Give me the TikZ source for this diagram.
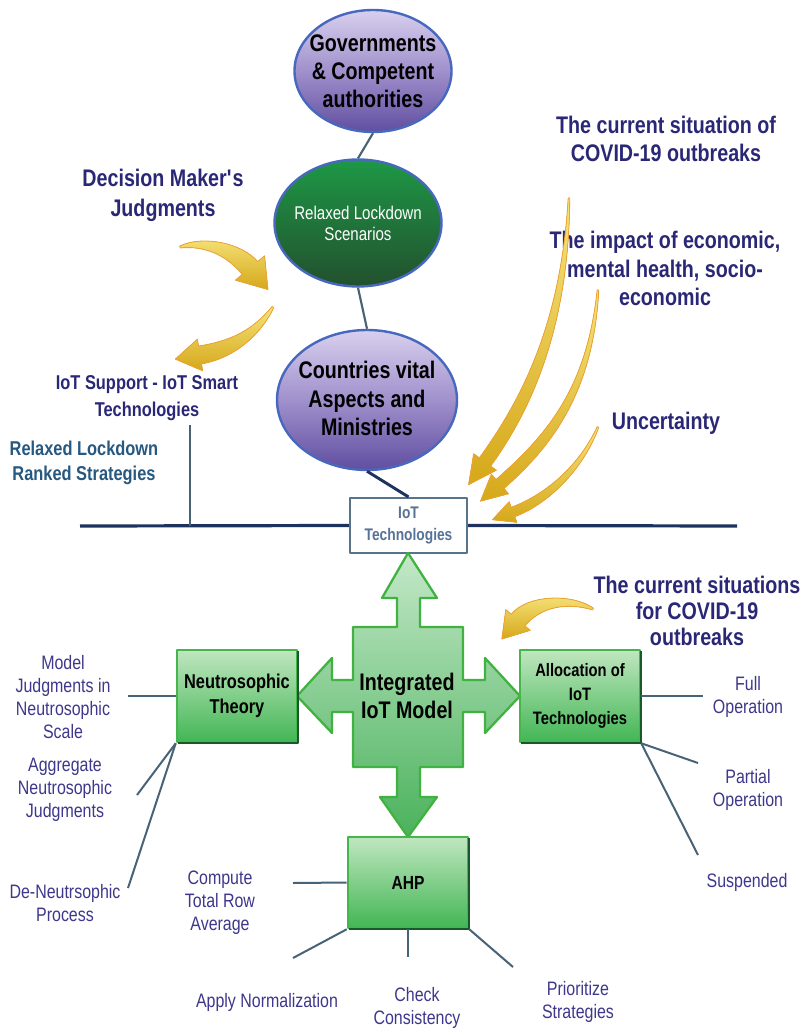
\documentclass[tikz,border=0pt]{standalone}
\usepackage{fontspec}
\setmainfont{Liberation Sans}[FakeStretch=0.82]
\usetikzlibrary{shapes.geometric,calc}

\definecolor{headnavy}{RGB}{42,40,118}
\definecolor{labelpurple}{RGB}{62,55,140}
\definecolor{rankblue}{RGB}{38,88,128}
\definecolor{ellTop}{RGB}{216,208,238}
\definecolor{ellMid}{RGB}{160,144,204}
\definecolor{ellBot}{RGB}{96,78,160}
\definecolor{ellEdge}{RGB}{72,104,190}
\definecolor{grTop}{RGB}{30,152,70}
\definecolor{grBot}{RGB}{34,80,46}
\definecolor{boxTop}{RGB}{192,230,192}
\definecolor{boxBot}{RGB}{66,182,84}
\definecolor{boxEdge}{RGB}{70,182,76}
\definecolor{boxDark}{RGB}{24,88,42}
\definecolor{arTop}{RGB}{196,232,200}
\definecolor{arBot}{RGB}{74,178,92}
\definecolor{arEdge}{RGB}{64,178,64}
\definecolor{yTop}{RGB}{246,228,124}
\definecolor{yBot}{RGB}{214,168,26}
\definecolor{yEdge}{RGB}{240,164,48}
\definecolor{lineGray}{RGB}{72,98,118}
\definecolor{mainLine}{RGB}{30,50,96}
\definecolor{iotText}{RGB}{86,114,150}
\definecolor{iotEdge}{RGB}{88,116,138}

% tapered curved arrow: start, control 1, control 2, head base,
% tail half-width, body half-width, head half-width, head length (px)
\newcommand\yarrow[8]{%
  \pgfmathsetmacro\yaT{#5*0.75}%
  \pgfmathsetmacro\yaB{#6*0.75}%
  \pgfmathsetmacro\yaM{(#5+#6)*0.375}%
  \pgfmathsetmacro\yaH{#7*0.75}%
  \pgfmathsetmacro\yaL{#8*0.75}%
  \filldraw[yarrowfill]
    ($#1!\yaT pt!90:#2$) .. controls ($#2!\yaM pt!-90:#1$) and ($#3!\yaB pt!90:#4$) .. ($#4!\yaB pt!-90:#3$)
    -- ($#4!\yaH pt!-90:#3$) -- ($#4!-\yaL pt!#3$) -- ($#4!\yaH pt!90:#3$) -- ($#4!\yaB pt!90:#3$)
    .. controls ($#3!\yaB pt!-90:#4$) and ($#2!\yaM pt!90:#1$) .. ($#1!\yaT pt!-90:#2$) -- cycle;
}

\begin{document}
\begin{tikzpicture}[x=0.75pt,y=-0.75pt,line join=round,
  pell/.style={ellipse, draw=ellEdge, line width=1.8pt, top color=ellTop, bottom color=ellBot, middle color=ellMid, inner sep=0pt},
  gell/.style={ellipse, draw=ellEdge, line width=1.8pt, top color=grTop, bottom color=grBot, inner sep=0pt},
  elltext/.style={align=center, inner sep=0pt, font=\fontsize{18}{21}\selectfont\bfseries},
  gbox/.style={rectangle, draw=boxEdge, line width=1.9pt, top color=boxTop, bottom color=boxBot, inner sep=2pt, align=center, font=\bfseries},
  heading/.style={align=center, inner sep=0pt, text=headnavy},
  sidelabel/.style={align=center, inner sep=0pt, text=labelpurple, font=\fontsize{14.6}{17.25}\selectfont},
  link/.style={draw=lineGray, line width=1.5pt},
  bigarrow/.style={draw=arEdge, line width=1.7pt, top color=arTop, bottom color=arBot},
  yarrowfill/.style={draw=yEdge, line width=0.6pt, top color=yTop, bottom color=yBot}
]
\fill[white] (0,0) rectangle (804,1031);
\useasboundingbox (0,0) rectangle (804,1031);

% ---- top chain of ellipses ----
\node[pell, minimum width=117.75pt, minimum height=91.5pt] (gov) at (373,71) {};
\node[elltext] (govtext) at (gov.center) {Governments\\\& Competent\\authorities};
\node[gell, minimum width=125.25pt, minimum height=95.25pt] (rls) at (358,223) {};
\node[align=center, inner sep=0pt, text=white, font=\fontsize{13.8}{15.75}\selectfont] (rlstext) at (rls.center) {Relaxed Lockdown\\Scenarios};
\node[pell, minimum width=135pt, minimum height=105pt] (cva) at (367,400) {};
\node[elltext, font=\fontsize{18}{21.4}\selectfont\bfseries] (cvatext) at (367,398.5) {Countries vital\\Aspects and\\Ministries};

\draw[draw=lineGray, line width=1.6pt] (gov.south) -- (rls.north);
\draw[draw=lineGray, line width=1.6pt] (rls.south) -- (cva.north);

% ---- main horizontal line and IoT box ----
\coordinate (hl) at (80,526);
\coordinate (hr) at (737,526);
\coordinate (vtop) at (190,425);
\coordinate (vbot) at (190,526);
\node[rectangle, draw=iotEdge, line width=1.6pt, fill=white, minimum width=87.75pt, minimum height=41.25pt, align=center, inner sep=1pt,
      text=iotText, font=\fontsize{12.6}{16.5}\selectfont\bfseries] (iot) at (408.5,525.5) {IoT\\Technologies};
\draw[draw=mainLine, line width=2.2pt] (cva.south) -- (iot.north);
\draw[draw=mainLine, line width=2.4pt] (hl) -- (iot.west);
\draw[draw=mainLine, line width=2.4pt] (iot.east) -- (hr);
\draw[link] (vtop) -- (vbot);

% ---- headings ----
\node[heading, font=\fontsize{18}{22.5}\selectfont\bfseries] (dmj) at (163,195) {Decision Maker\textquotesingle s\\Judgments};
\node[heading, font=\fontsize{15}{20.25}\selectfont\bfseries] (iots) at (147,398.5) {IoT Support - IoT Smart\\Technologies};
\node[heading, text=rankblue, font=\fontsize{15}{18.75}\selectfont\bfseries] (rlrs) at (84,462.5) {Relaxed Lockdown\\Ranked Strategies};
\node[heading, font=\fontsize{18}{21}\selectfont\bfseries] (cs1) at (666,139) {The current situation of\\COVID-19 outbreaks};
\node[heading, font=\fontsize{18}{21.4}\selectfont\bfseries] (imp) at (665,268.5) {The impact of economic,\\mental health, socio-\\economic};
\node[heading, font=\fontsize{18}{21}\selectfont\bfseries] (unc) at (666,423) {Uncertainty};
\node[heading, font=\fontsize{18}{19.5}\selectfont\bfseries] (cs2) at (697,611) {The current situations\\for COVID-19\\outbreaks};

% ---- yellow curved arrows ----
\coordinate (a0) at (180,247); \coordinate (a1) at (205,240); \coordinate (a2) at (235,250); \coordinate (a3) at (250,268);
\yarrow{(a0)}{(a1)}{(a2)}{(a3)}{1}{10}{19}{28}
\coordinate (b0) at (273,307); \coordinate (b1) at (255,335); \coordinate (b2) at (230,350); \coordinate (b3) at (200,355);
\yarrow{(b0)}{(b1)}{(b2)}{(b3)}{1}{9}{16}{25}
\coordinate (c0) at (569,198); \coordinate (c1) at (565,320); \coordinate (c2) at (530,400); \coordinate (c3) at (485,462);
\yarrow{(c0)}{(c1)}{(c2)}{(c3)}{0.8}{7}{14}{28}
\coordinate (d0) at (598,290); \coordinate (d1) at (590,390); \coordinate (d2) at (550,440); \coordinate (d3) at (500,484);
\yarrow{(d0)}{(d1)}{(d2)}{(d3)}{0.8}{6}{13}{26}
\coordinate (e0) at (598,427); \coordinate (e1) at (580,470); \coordinate (e2) at (545,500); \coordinate (e3) at (513,512);
\yarrow{(e0)}{(e1)}{(e2)}{(e3)}{0.8}{5}{11}{22}
\coordinate (f0) at (593,609); \coordinate (f1) at (570,598); \coordinate (f2) at (535,600); \coordinate (f3) at (518,620);
\yarrow{(f0)}{(f1)}{(f2)}{(f3)}{1}{9}{16}{25}

% ---- four-way arrow of the integrated model ----
\filldraw[bigarrow] (408,553) -- (437,598) -- (420,598) -- (420,627) -- (463,627) -- (463,680) -- (485,680) -- (485,658)
  -- (520,696) -- (485,733) -- (485,712) -- (463,712) -- (463,767) -- (420,767) -- (420,797) -- (437,797)
  -- (408,837) -- (380,797) -- (397,797) -- (397,767) -- (353,767) -- (353,712) -- (332,712) -- (332,733)
  -- (297,696) -- (332,658) -- (332,680) -- (353,680) -- (353,627) -- (397,627) -- (397,598) -- (382,598) -- cycle;
\node[align=center, inner sep=0pt, font=\fontsize{18}{21}\selectfont\bfseries] (model) at (407,696) {Integrated\\IoT Model};

% ---- green boxes ----
\node[gbox, minimum width=90pt, minimum height=69pt, font=\fontsize{15}{18.75}\selectfont\bfseries] (neu) at (237,696) {Neutrosophic\\Theory};
\node[gbox, minimum width=90pt, minimum height=69pt, font=\fontsize{13.5}{18}\selectfont\bfseries] (alloc) at (580,696) {Allocation of\\IoT\\Technologies};
\node[gbox, minimum width=90pt, minimum height=68.25pt, font=\fontsize{14.25}{17}\selectfont\bfseries] (ahp) at (408,882.5) {AHP};
\foreach \b in {neu,alloc,ahp}{
  \draw[boxDark, line width=1.3pt] ([yshift=-2pt]\b.north east) -- (\b.south east) -- ([xshift=2pt]\b.south west);
}

% ---- side labels ----
\node[sidelabel] (m1) at (63,697) {Model\\Judgments in\\Neutrosophic\\Scale};
\node[sidelabel] (m2) at (65,790) {Aggregate\\Neutrosophic\\Judgments};
\node[sidelabel] (m3) at (65,903.5) {De-Neutrsophic\\Process};
\node[sidelabel] (h1) at (220,903) {Compute\\Total Row\\Average};
\node[sidelabel] (h2) at (267,1002) {Apply Normalization};
\node[sidelabel] (h3) at (417,1007.5) {Check\\Consistency};
\node[sidelabel] (h4) at (578,1001.5) {Prioritize\\Strategies};
\node[sidelabel] (o1) at (748,696.5) {Full\\Operation};
\node[sidelabel] (o2) at (748,790) {Partial\\Operation};
\node[sidelabel] (o3) at (747,882) {Suspended};

% ---- side connectors ----
\coordinate (n1) at (128,696); \coordinate (n2) at (137,795); \coordinate (n3) at (128,888);
\coordinate (p1) at (703,696); \coordinate (p2) at (698,763); \coordinate (p3) at (698,855);
\coordinate (q1) at (293,883); \coordinate (q2) at (293,958); \coordinate (q3) at (408,957); \coordinate (q4) at (513,967);
\draw[link] (neu.west) -- (n1);
\draw[link] (neu.south west) -- (n2);
\draw[link] (neu.south west) -- (n3);
\draw[link] (alloc.east) -- (p1);
\draw[link] (alloc.south east) -- (p2);
\draw[link] (alloc.south east) -- (p3);
\draw[link] (ahp.west) -- (q1);
\draw[link] (ahp.south west) -- (q2);
\draw[link] (ahp.south) -- (q3);
\draw[link] (ahp.south east) -- (q4);
\end{tikzpicture}
\end{document}
